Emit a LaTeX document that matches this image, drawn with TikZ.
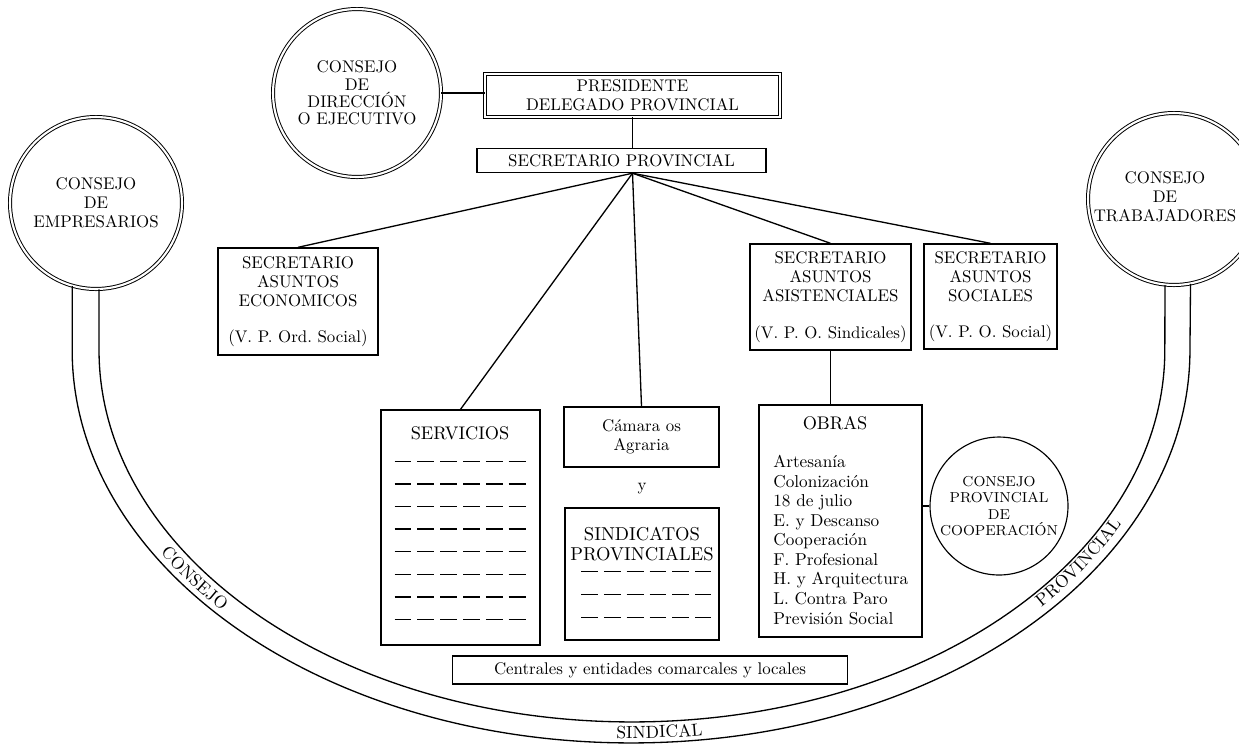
\documentclass[tikz,border=0pt]{standalone}
\usepackage{amsmath}
\usetikzlibrary{calc}
\usetikzlibrary{shapes,arrows,decorations.text}
\newcommand{\orgfont}{\fontsize{9.6}{10.8}\selectfont}
\newcommand{\ttlfont}{\fontsize{10.4}{11.4}\selectfont}
\newcommand{\listfont}{\fontsize{9.8}{11.1}\selectfont}
\newcommand{\coopfont}{\fontsize{8.2}{9.2}\selectfont}
\newcommand{\bandfont}{\fontsize{10}{11}\selectfont}
\tikzstyle{bx}=[rectangle, draw, line width=0.8pt, align=center, inner sep=0pt, font=\orgfont]
\tikzstyle{dbx}=[bx, line width=0.55pt, double, double distance=1.6pt]
\tikzstyle{dcirc}=[circle, draw, line width=0.55pt, double, double distance=1.2pt, align=center, inner sep=0pt, font=\orgfont]
\tikzstyle{scirc}=[circle, draw, line width=0.65pt, align=center, inner sep=0pt, font=\coopfont]
\tikzstyle{tx}=[align=center, inner sep=0pt, font=\orgfont]
\tikzstyle{ln}=[line width=0.75pt]
\tikzstyle{dl}=[line width=0.85pt, dash pattern=on 9.6pt off 3.4pt]
\tikzstyle{bandtxt}=[decorate, decoration={text along path, text align=center, raise=-3.4pt, text={|\bandfont|#1}}]

\begin{document}
\frenchspacing
\begin{tikzpicture}[x=0.02cm, y=0.02cm]
\useasboundingbox (0,0) rectangle (1239,-745);
\clip (0,0) rectangle (1239,-745);
% cabecera
\node[dcirc, minimum size=3.36cm, font=\fontsize{9.6}{9.8}\selectfont] (cdir) at (357,-93) {CONSEJO\\DE\\DIRECCIÓN\\O EJECUTIVO};
\node[dbx, minimum width=5.9cm, minimum height=0.86cm] (pres) at (632.5,-95.5) {PRESIDENTE\\DELEGADO PROVINCIAL};
\node[bx, minimum width=5.78cm, minimum height=0.48cm] (secprov) at (621.5,-160.5) {SECRETARIO PROVINCIAL};
% consejos laterales
\node[dcirc, minimum size=3.44cm] (cemp) at (96,-203) {CONSEJO\\DE\\EMPRESARIOS};
\node[dcirc, minimum size=3.44cm] (ctrab) at (1174,-199) {};
\node[tx] (ttrab) at (1165,-197) {CONSEJO\\DE\\TRABAJADORES};
% secretarios
\node[bx, minimum width=3.2cm, minimum height=2.14cm] (econ) at (298,-301.5) {SECRETARIO\\ASUNTOS\\ECONOMICOS\\[10pt](V. P. Ord. Social)};
\node[bx, minimum width=3.22cm, minimum height=2.12cm] (asis) at (830.5,-297) {SECRETARIO\\ASUNTOS\\ASISTENCIALES\\[10pt](V. P. O. Sindicales)};
\node[bx, minimum width=2.66cm, minimum height=2.1cm] (soc) at (990.5,-296.5) {SECRETARIO\\ASUNTOS\\SOCIALES\\[10pt](V. P. O. Social)};
% servicios, camara, sindicatos, obras
\node[bx, minimum width=3.18cm, minimum height=4.7cm] (serv) at (460.5,-527.5) {};
\node[tx, font=\ttlfont] (servt) at (460,-433) {SERVICIOS};
\node[bx, minimum width=3.1cm, minimum height=1.2cm] (cam) at (641.5,-437) {Cámara os\\Agraria};
\node[tx] (yy) at (642,-489) {y};
\node[bx, minimum width=3.08cm, minimum height=2.64cm] (sind) at (642,-574) {};
\node[tx, font=\fontsize{10.6}{11.6}\selectfont] (sindt) at (642,-544) {SINDICATOS\\PROVINCIALES};
\node[bx, minimum width=3.26cm, minimum height=4.64cm] (obras) at (840.5,-521) {};
\node[tx, font=\ttlfont] (obrast) at (835,-423) {OBRAS};
\node[tx, align=left, font=\listfont, anchor=west] (obrasl) at (773,-540) {Artesanía\\Colonización\\18 de julio\\E. y Descanso\\Cooperación\\F. Profesional\\H. y Arquitectura\\L. Contra Paro\\Previsión Social};
\node[scirc, minimum size=2.76cm] (coop) at (999,-506) {CONSEJO\\PROVINCIAL\\DE\\COOPERACIÓN};
\node[bx, minimum width=7.9cm, minimum height=0.56cm] (cent) at (650,-670) {Centrales y entidades comarcales y locales};

% lineas
\draw[ln] (cdir.east) -- (cdir.east -| pres.west);
\draw[ln] (pres.south) -- (pres.south |- secprov.north);
\coordinate (hub) at (pres.south |- secprov.south);
\foreach \n in {econ,serv,cam,asis,soc}
  \draw[ln] (hub) -- (\n.north);
\draw[ln] (asis.south) -- (asis.south |- obras.north);
\draw[ln] (coop.west -| obras.east) -- (coop.west);

% renglones
\foreach \r in {0,...,7}
  \draw[dl] ($(serv.north)+(-66,{-52-22.6*\r})$) -- ++(132,0);
\foreach \r in {0,1,2}
  \draw[dl] ($(sind.north)+(-61,{-64-23*\r})$) -- ++(130,0);

% consejo sindical provincial
\draw[ln] (cemp.254) -- (cemp.254 |- 0,-350) arc[start angle=180, end angle=360, x radius=11.18cm, y radius=7.86cm] -- (ctrab.281);
\draw[ln] (cemp.272) -- (cemp.272 |- 0,-350) arc[start angle=180, end angle=360, x radius=10.66cm, y radius=7.44cm] -- (ctrab.264);
\path[bandtxt=CONSEJO] (118.2,-480.8) arc[start angle=200, end angle=232, x radius=10.92cm, y radius=7.65cm];
\path[bandtxt=SINDICAL] (517.8,-724.1) arc[start angle=258, end angle=288, x radius=10.92cm, y radius=7.65cm];
\path[bandtxt=PROVINCIAL] (957.1,-654.6) arc[start angle=307, end angle=347, x radius=10.92cm, y radius=7.65cm];
\end{tikzpicture}
\end{document}
